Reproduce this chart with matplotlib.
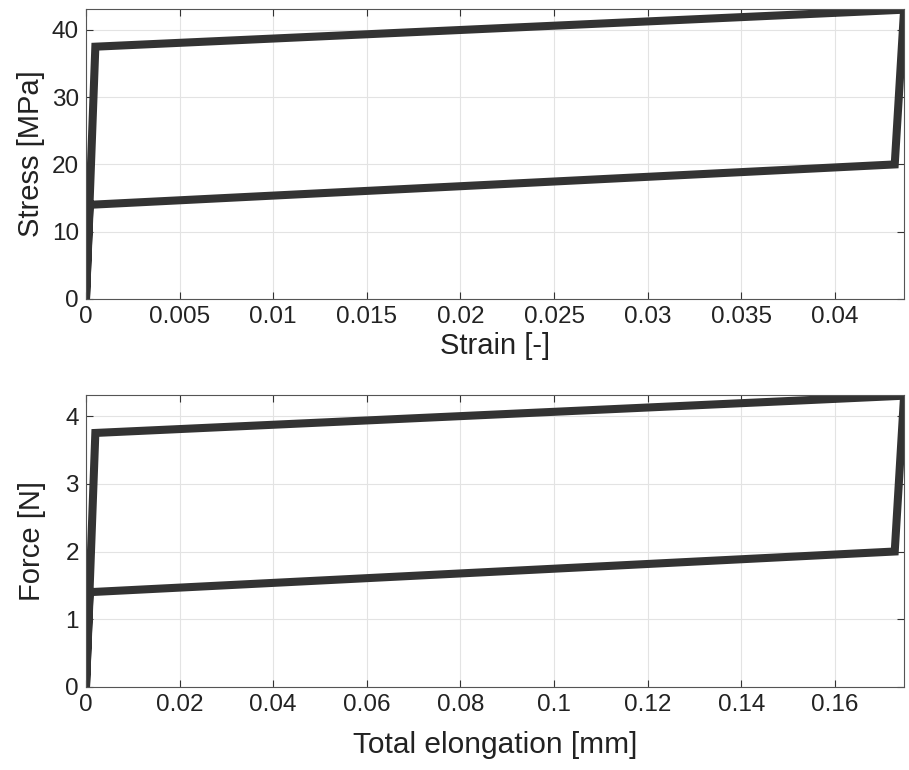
import matplotlib.pyplot as plt

# loop vertices
strain = [0.0, 0.0005, 0.0437, 0.0432, 0.0002, 0.0]
stress = [0.0, 37.5, 43.0, 20.0, 14.0, 0.0]
elong = [0.0, 0.002, 0.1748, 0.1728, 0.0008, 0.0]
force = [0.0, 3.75, 4.30, 2.00, 1.40, 0.0]

strain_ticks = [0, 0.005, 0.01, 0.015, 0.02, 0.025, 0.03, 0.035, 0.04]
strain_labels = ['0', '0.005', '0.01', '0.015', '0.02', '0.025', '0.03', '0.035', '0.04']
stress_ticks = [0, 10, 20, 30, 40]
elong_ticks = [0, 0.02, 0.04, 0.06, 0.08, 0.1, 0.12, 0.14, 0.16]
elong_labels = ['0', '0.02', '0.04', '0.06', '0.08', '0.1', '0.12', '0.14', '0.16']
force_ticks = [0, 1, 2, 3, 4]

plt.rcParams['font.family'] = ['Liberation Sans', 'DejaVu Sans']

fig = plt.figure(figsize=(9.09, 7.7), dpi=100)
ax1 = fig.add_axes([0.0946, 0.6117, 0.9, 0.3766])
ax2 = fig.add_axes([0.0946, 0.1078, 0.9, 0.3792])

def style(ax, xt, xl, yt):
    ax.set_xticks(xt)
    ax.set_xticklabels(xl)
    ax.set_yticks(yt)
    ax.grid(True, color='#e3e3e3', linewidth=0.8)
    ax.set_axisbelow(True)
    ax.tick_params(direction='in', top=True, right=True, length=5,
                   color='#333333', labelcolor='#222222', labelsize=17.5, pad=5)
    for s in ax.spines.values():
        s.set_color('#555555')
        s.set_linewidth(0.8)

ax1.plot(strain, stress, color='#333333', linewidth=5.8, solid_joinstyle='miter')
ax1.set_xlim(0, 0.0437)
ax1.set_ylim(0, 43.1)
style(ax1, strain_ticks, strain_labels, stress_ticks)
ax1.set_xlabel('Strain [-]', fontsize=21, labelpad=3, color='#222222')
ax1.set_ylabel('Stress [MPa]', fontsize=21, labelpad=5, color='#222222')

ax2.plot(elong, force, color='#333333', linewidth=5.8, solid_joinstyle='miter')
ax2.set_xlim(0, 0.1748)
ax2.set_ylim(0, 4.31)
style(ax2, elong_ticks, elong_labels, force_ticks)
ax2.set_xlabel('Total elongation [mm]', fontsize=21.5, labelpad=11, color='#222222')
ax2.set_ylabel('Force [N]', fontsize=21, labelpad=14, color='#222222')

fig.savefig('out.png', dpi=100)
